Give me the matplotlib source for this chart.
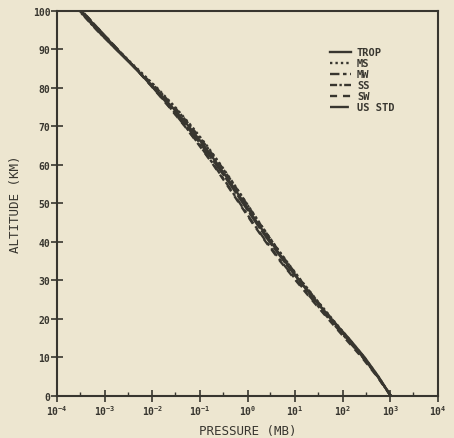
"""
Altitude vs pressure for the AFGL model atmospheres and US standard.
"""
import matplotlib
matplotlib.use("Agg")
import matplotlib.pyplot as plt
from matplotlib.ticker import LogLocator, LogFormatterMathtext

# altitude grid (km) and pressure (mb) for each model
altitude_km = [0, 5, 10, 15, 20, 25, 30, 35, 40, 45, 50,
               55, 60, 65, 70, 75, 80, 85, 90, 95, 100]

trop = [1013, 559, 286, 132, 56.5, 25.7, 12.2, 6.00, 3.05, 1.59, 0.854,
        0.456, 0.239, 0.121, 0.0580, 0.0260, 0.0110, 0.00440, 0.00172, 0.000688, 0.000300]
mid_summer = [1013, 554, 281, 130, 59.5, 27.7, 13.2, 6.52, 3.33, 1.76, 0.951,
              0.515, 0.272, 0.139, 0.0670, 0.0300, 0.0125, 0.00480, 0.00180, 0.000700, 0.000300]
mid_winter = [1018, 541, 262, 116, 51.0, 23.0, 10.6, 5.00, 2.48, 1.28, 0.690,
              0.370, 0.195, 0.0990, 0.0490, 0.0230, 0.0104, 0.00450, 0.00187, 0.000780, 0.000330]
sub_summer = [1010, 537, 268, 125, 58.3, 27.3, 13.0, 6.44, 3.30, 1.74, 0.939,
              0.507, 0.265, 0.133, 0.0640, 0.0290, 0.0120, 0.00460, 0.00175, 0.000680, 0.000290]
sub_winter = [1013, 525, 250, 110, 49.0, 22.0, 10.2, 4.80, 2.40, 1.24, 0.665,
              0.358, 0.190, 0.0970, 0.0480, 0.0225, 0.0102, 0.00445, 0.00186, 0.000780, 0.000330]
us_std = [1013.25, 540.5, 265.0, 121.1, 55.29, 25.49, 11.97, 5.746, 2.871, 1.491, 0.7978,
          0.4253, 0.2196, 0.1093, 0.05221, 0.02388, 0.01052, 0.004457, 0.001836, 0.0007597, 0.0003201]

labels = ["TROP", "MS", "MW", "SS", "SW", "US STD"]
y_ticks = [0, 10, 20, 30, 40, 50, 60, 70, 80, 90, 100]

PAPER = "#ede6d0"
INK = "#38362f"

plt.rcParams["font.family"] = "DejaVu Sans Mono"
plt.rcParams["font.weight"] = "bold"
plt.rcParams["mathtext.fontset"] = "custom"
plt.rcParams["mathtext.rm"] = "DejaVu Sans Mono:bold"
plt.rcParams["mathtext.it"] = "DejaVu Sans Mono:bold"
plt.rcParams["mathtext.bf"] = "DejaVu Sans Mono:bold"

fig = plt.figure(figsize=(4.54, 4.39), dpi=100, facecolor=PAPER)
ax = fig.add_axes([0.126, 0.096, 0.839, 0.877], facecolor=PAPER)

styles = ["-", (0, (1, 1.3)), (0, (4, 1.5, 1.5, 1.5)),
          (0, (3, 1, 1, 1)), (0, (3, 2.5)), (0, (8, 1))]
series = [trop, mid_summer, mid_winter, sub_summer, sub_winter, us_std]

for p, ls, lab in zip(series, styles, labels):
    ax.plot(p, altitude_km, color=INK, lw=1.7, ls=ls, label=lab)

ax.set_xscale("log")
ax.set_xlim(1e-4, 1e4)
ax.set_ylim(0, 100)
ax.set_yticks(y_ticks)
ax.xaxis.set_major_locator(LogLocator(base=10, numticks=20))
ax.xaxis.set_major_formatter(LogFormatterMathtext())
ax.xaxis.set_minor_locator(LogLocator(base=10, subs=[3.0], numticks=20))
ax.xaxis.set_minor_formatter(plt.NullFormatter())

for s in ax.spines.values():
    s.set_color(INK)
    s.set_linewidth(1.5)

ax.tick_params(axis="both", which="major", direction="inout", length=8,
               width=1.2, colors=INK, labelsize=7, pad=1)
ax.tick_params(axis="x", which="minor", direction="in", length=3,
               width=1.0, colors=INK)
ax.tick_params(top=False, right=False)

ax.set_xlabel("PRESSURE (MB)", fontsize=9, color=INK, labelpad=5)
ax.set_ylabel("ALTITUDE (KM)", fontsize=9, color=INK, labelpad=8)

ax.legend(loc="upper right", bbox_to_anchor=(0.91, 0.93), frameon=False,
          fontsize=7.5, handlelength=2.0, handletextpad=0.6,
          labelspacing=0.1, labelcolor=INK)

fig.savefig("out.png", dpi=100, facecolor=PAPER)
